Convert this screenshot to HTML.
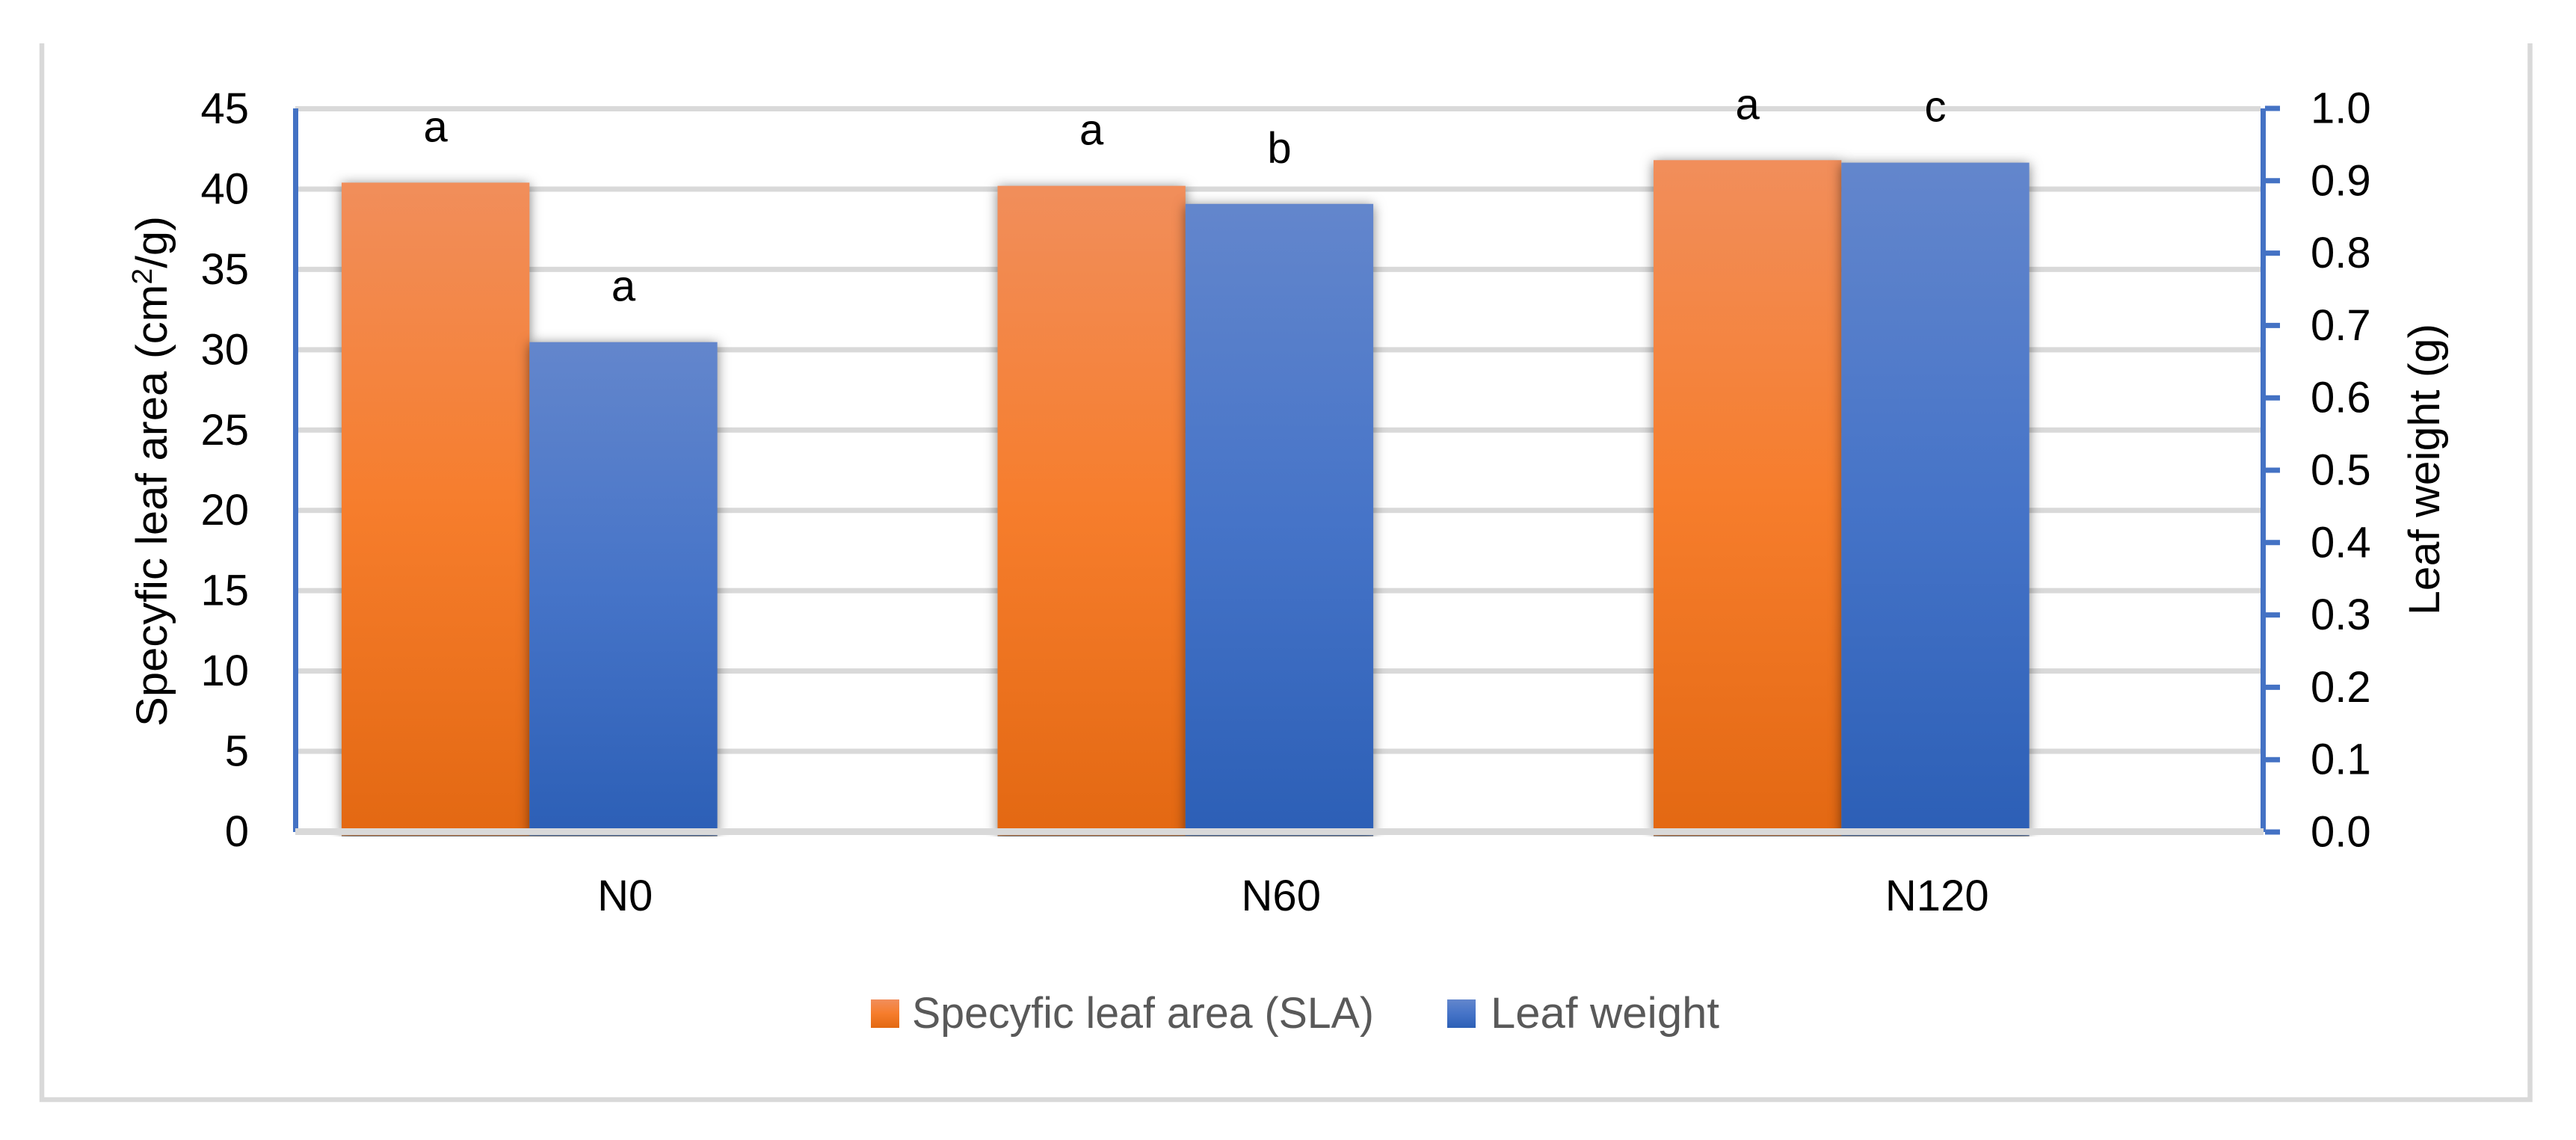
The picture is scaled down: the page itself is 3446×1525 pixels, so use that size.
<!DOCTYPE html>
<html lang="en">
<head>
<meta charset="utf-8">
<title>Specific leaf area and leaf weight</title>
<style>
  html, body { margin: 0; padding: 0; background: #fff; }
  svg { display: block; }
  text { font-family: "Liberation Sans", sans-serif; }
</style>
</head>
<body>
<svg id="chart" xmlns="http://www.w3.org/2000/svg" width="3446" height="1525" viewBox="0 0 3446 1525">
  <defs>
    <linearGradient id="orangeFill" x1="0" y1="0" x2="0" y2="1">
      <stop offset="0" stop-color="#F18E5B"/>
      <stop offset="0.5" stop-color="#F67D2C"/>
      <stop offset="1" stop-color="#E36812"/>
    </linearGradient>
    <linearGradient id="blueFill" x1="0" y1="0" x2="0" y2="1">
      <stop offset="0" stop-color="#6386CC"/>
      <stop offset="0.5" stop-color="#4674C8"/>
      <stop offset="1" stop-color="#2C5FB6"/>
    </linearGradient>
    <filter id="barShadow" x="-30%" y="-10%" width="160%" height="120%" color-interpolation-filters="sRGB">
      <feDropShadow dx="0" dy="2" stdDeviation="8" flood-color="#000" flood-opacity="0.5"/>
    </filter>
    <clipPath id="plotClip"><rect x="0" y="0" width="3446" height="1119"/></clipPath>
  </defs>
  <rect x="0" y="0" width="3446" height="1525" fill="#ffffff"/>
  <path d="M56 58 V1471 H3384.5 V58" fill="none" stroke="#D9D9D9" stroke-width="6.5"/>
  <g id="gridLayer"></g>
  <g id="barLayer" clip-path="url(#plotClip)"></g>
  <g id="axisLayer"></g>
  <g id="textLayer"></g>
  <text transform="translate(223 972) rotate(-90)" font-size="58" fill="#000" textLength="683" lengthAdjust="spacingAndGlyphs">Specyfic leaf area (cm<tspan font-size="38" dy="-20">2</tspan><tspan dy="20">/g)</tspan></text>
  <text transform="translate(3263 823) rotate(-90)" font-size="58" fill="#000" textLength="390" lengthAdjust="spacingAndGlyphs">Leaf weight (g)</text>
  <g>
    <g>
      <rect x="1165" y="1337" width="38" height="38" fill="url(#orangeFill)"/>
      <text x="1220" y="1375" font-size="58" fill="#595959" textLength="618" lengthAdjust="spacingAndGlyphs">Specyfic leaf area (SLA)</text>
    </g>
    <g>
      <rect x="1936" y="1337" width="38" height="38" fill="url(#blueFill)"/>
      <text x="1994" y="1375" font-size="58" fill="#595959" textLength="306" lengthAdjust="spacingAndGlyphs">Leaf weight</text>
    </g>
  </g>
</svg>
<script>
const categories = ['N0', 'N60', 'N120'];
const slaValues = [40.4, 40.2, 41.8];
const weightValues = [0.677, 0.868, 0.925];
const slaLetters = ['a', 'a', 'a'];
const weightLetters = ['a', 'b', 'c'];
const leftTickLabels = ['0', '5', '10', '15', '20', '25', '30', '35', '40', '45'];
const rightTickLabels = ['0.0', '0.1', '0.2', '0.3', '0.4', '0.5', '0.6', '0.7', '0.8', '0.9', '1.0'];

const NS = 'http://www.w3.org/2000/svg';
const leftMax = 45;
const rightMax = 1;
const plotLeft = 395;
const plotRight = 3028;
const bandWidth = 877.5;
const barWidth = 251.3;
const barInset = 62;

function yLeft(v) { return 1112.5 - v * (967 / leftMax); }
function yRight(v) { return 1113 - v * (968 / rightMax); }
function bandStart(i) { return plotLeft + i * bandWidth; }

function make(tag, attrs, parent, content) {
  const el = document.createElementNS(NS, tag);
  for (const k in attrs) el.setAttribute(k, attrs[k]);
  if (content !== undefined) el.textContent = content;
  parent.appendChild(el);
  return el;
}

const gridLayer = document.getElementById('gridLayer');
const barLayer = document.getElementById('barLayer');
const axisLayer = document.getElementById('axisLayer');
const textLayer = document.getElementById('textLayer');

leftTickLabels.forEach(function (label) {
  const v = Number(label);
  const y = yLeft(v);
  if (v > 0) {
    const grid = make('line', { x1: v === leftMax ? plotLeft : 399, x2: plotRight - 4, y1: y, y2: y, stroke: '#D9D9D9', 'stroke-width': 7 }, gridLayer);
    
    
  }
  const t = make('text', { x: 333, y: y + 19.5, 'font-size': 58, 'text-anchor': 'end', fill: '#000' }, textLayer, label);
  
  
});

categories.forEach(function (cat, i) {
  const x0 = bandStart(i) + barInset;
  const x1 = x0 + barWidth;
  const base = yLeft(0) + 5;

  const strip = make('rect', { x: x0, y: 1117, width: barWidth * 2, height: 2, fill: '#a6a6a6' }, barLayer);
  
  

  const slaTop = yLeft(slaValues[i]);
  const slaBar = make('rect', { x: x0, y: slaTop, width: barWidth, height: base - slaTop, fill: 'url(#orangeFill)', filter: 'url(#barShadow)' }, barLayer);
  
  

  const weightTop = yRight(weightValues[i]);
  const weightBar = make('rect', { x: x1, y: weightTop, width: barWidth, height: base - weightTop, fill: 'url(#blueFill)', filter: 'url(#barShadow)' }, barLayer);
  
  

  const slaLetter = make('text', { x: x0 + barWidth / 2, y: slaTop - 55, 'font-size': 58, 'text-anchor': 'middle', fill: '#000' }, textLayer, slaLetters[i]);
  
  

  const weightLetter = make('text', { x: x1 + barWidth / 2, y: weightTop - 55, 'font-size': 58, 'text-anchor': 'middle', fill: '#000' }, textLayer, weightLetters[i]);
  
  

  const catLabel = make('text', { x: bandStart(i) + bandWidth / 2 + 2.5, y: 1218, 'font-size': 58, 'text-anchor': 'middle', fill: '#000' }, textLayer, cat);
  
  
});

const leftAxis = make('rect', { x: 392, y: yRight(rightMax), width: 7, height: yRight(0) - yRight(rightMax), fill: '#4472C4' }, axisLayer);



const rightAxis = make('rect', { x: 3024, y: yRight(rightMax), width: 7, height: yRight(0) - yRight(rightMax), fill: '#4472C4' }, axisLayer);



rightTickLabels.forEach(function (label) {
  const v = Number(label);
  const y = yRight(v);
  const tick = make('line', { x1: 3030, x2: 3050, y1: y, y2: y, stroke: '#4472C4', 'stroke-width': 7 }, axisLayer);
  
  
  const t = make('text', { x: 3091, y: y + 19.5, 'font-size': 58, fill: '#000' }, textLayer, label);
  
  
});

const baseline = make('rect', { x: plotLeft, y: 1108, width: plotRight - plotLeft, height: 9, fill: '#D9D9D9' }, axisLayer);


</script>
</body>
</html>
